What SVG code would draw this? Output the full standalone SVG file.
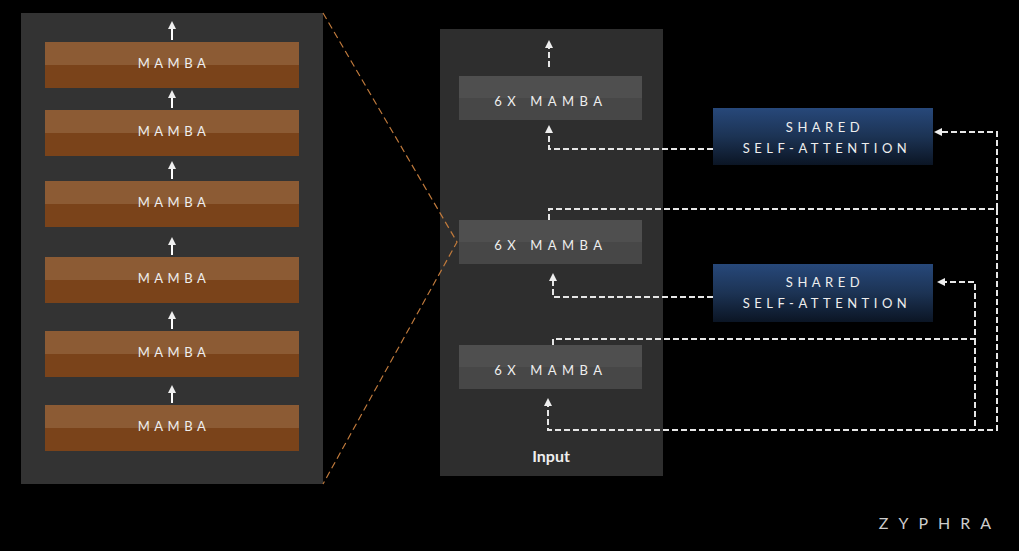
<svg xmlns="http://www.w3.org/2000/svg" width="1019" height="551" viewBox="0 0 1019 551">
<defs>
<linearGradient id="sa" x1="0" y1="0" x2="0" y2="1"><stop offset="0" stop-color="#27487a"/><stop offset="0.5" stop-color="#1c3354"/><stop offset="1" stop-color="#0b1524"/></linearGradient>
<marker id="ah" viewBox="0 0 10 10" refX="5" refY="5" markerWidth="4" markerHeight="4" orient="auto"><path d="M0,0 L10,5 L0,10 z" fill="#eee"/></marker>
<style>
.mb{fill:#7a431a}.mbt{fill:#8c5b34}
.t{font-family:"Lato","Liberation Sans",sans-serif;fill:#eee;font-size:13px;letter-spacing:4.5px;text-anchor:middle}
.t6{letter-spacing:5.5px}
.g{fill:#474747}.gt{fill:#4f4f4f}
.d{fill:none;stroke:#e6e6e6;stroke-width:2;stroke-dasharray:6,3}
.s{fill:none;stroke:#fff;stroke-width:2}
</style>
</defs>
<rect width="1019" height="551" fill="#000"/>
<rect x="21" y="13" width="302" height="471" fill="#333"/>
<rect x="440" y="29" width="223" height="447" fill="#2e2e2e"/>
<g id="left-arrows" class="s" marker-end="url(#ah)">
<line x1="172" y1="40" x2="172" y2="25"/><line x1="172" y1="108" x2="172" y2="94"/><line x1="172" y1="179" x2="172" y2="165"/><line x1="172" y1="255" x2="172" y2="241"/><line x1="172" y1="329" x2="172" y2="315"/><line x1="172" y1="403" x2="172" y2="389"/>
</g>
<g id="m1"><rect class="mb" x="45" y="42" width="254" height="46"/><rect class="mbt" x="45" y="42" width="254" height="23"/><text class="t" x="174" y="68">MAMBA</text></g>
<g id="m2"><rect class="mb" x="45" y="110" width="254" height="46"/><rect class="mbt" x="45" y="110" width="254" height="23"/><text class="t" x="174" y="136">MAMBA</text></g>
<g id="m3"><rect class="mb" x="45" y="181" width="254" height="46"/><rect class="mbt" x="45" y="181" width="254" height="23"/><text class="t" x="174" y="207">MAMBA</text></g>
<g id="m4"><rect class="mb" x="45" y="257" width="254" height="46"/><rect class="mbt" x="45" y="257" width="254" height="23"/><text class="t" x="174" y="283">MAMBA</text></g>
<g id="m5"><rect class="mb" x="45" y="331" width="254" height="46"/><rect class="mbt" x="45" y="331" width="254" height="23"/><text class="t" x="174" y="357">MAMBA</text></g>
<g id="m6"><rect class="mb" x="45" y="405" width="254" height="46"/><rect class="mbt" x="45" y="405" width="254" height="23"/><text class="t" x="174" y="431">MAMBA</text></g>
<g id="b1"><rect class="g" x="459" y="76" width="183" height="44"/><rect class="gt" x="459" y="76" width="183" height="22"/><text class="t t6" x="551" y="106">6X MAMBA</text></g>
<g id="b2"><rect class="g" x="459" y="220" width="183" height="44"/><rect class="gt" x="459" y="220" width="183" height="22"/><text class="t t6" x="551" y="250">6X MAMBA</text></g>
<g id="b3"><rect class="g" x="459" y="345" width="183" height="44"/><rect class="gt" x="459" y="345" width="183" height="22"/><text class="t t6" x="551" y="375">6X MAMBA</text></g>
<g id="sa1"><rect fill="url(#sa)" x="713" y="108" width="220" height="57"/><text class="t" x="825" y="132">SHARED</text><text class="t" x="827" y="153">SELF-ATTENTION</text></g>
<g id="sa2"><rect fill="url(#sa)" x="713" y="264" width="220" height="58"/><text class="t" x="825" y="287">SHARED</text><text class="t" x="827" y="308">SELF-ATTENTION</text></g>
<text id="input" x="551" y="462" font-family="Lato,'Liberation Sans',sans-serif" font-size="16" font-weight="bold" fill="#eee" text-anchor="middle">Input</text>
<text id="logo" x="940" y="529" font-family="Lato,'Liberation Sans',sans-serif" font-size="16" fill="#ccc" letter-spacing="10" text-anchor="middle">ZYPHRA</text>
<g id="connectors">
<path d="M323,13 L457,242 L323,484" fill="none" stroke="#c07a3c" stroke-width="1.2" stroke-dasharray="7,4"/>
<path class="d" d="M549,67 V44" marker-end="url(#ah)"/>
<path class="d" d="M713,149 H549 V129" marker-end="url(#ah)"/>
<path class="d" d="M713,297 H553 V277" marker-end="url(#ah)"/>
<path class="d" d="M549,220 V209 H997 V132 H938" marker-end="url(#ah)"/>
<path class="d" d="M553,345 V339 H975 V282 H941" marker-end="url(#ah)"/>
<path class="d" d="M975,339 V430"/>
<path class="d" d="M997,209 V430 H548 V402" marker-end="url(#ah)"/>
</g>
</svg>
